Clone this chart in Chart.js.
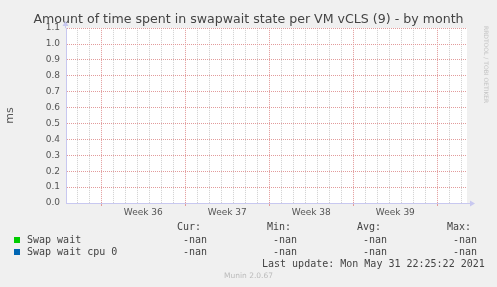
<!DOCTYPE html>
<html>
<head>
<meta charset="utf-8">
<script src="https://cdn.jsdelivr.net/npm/chart.js@4"></script>
<style>
  html, body { margin: 0; padding: 0; background: #f0f0f0; }
  #wrap { position: relative; width: 497px; height: 287px; overflow: hidden; }
  #chart { position: absolute; left: 0; top: 0; }
  .t { position: absolute; white-space: pre; font-family: "DejaVu Sans Mono", monospace; font-size: 10px; line-height: 12px; color: #444; }
  .sq { position: absolute; width: 6px; height: 6px; }
  #munin { position: absolute; left: 0; width: 497px; top: 271px; text-align: center; font-family: "DejaVu Sans", sans-serif; font-size: 7.5px; color: #bbb; }
  #rrd { position: absolute; left: 483px; top: 26px; writing-mode: vertical-rl; font-family: "DejaVu Sans", sans-serif; font-size: 6px; color: #c4c4c4; }
</style>
</head>
<body>
<div id="wrap">
  <canvas id="chart" width="497" height="287"></canvas>
  <div id="legend"></div>
  <div id="munin">Munin 2.0.67</div>
  <div id="rrd">RRDTOOL / TOBI OETIKER</div>
</div>
<script>
// days relative to the start of week 36
const days = [0, 7, 14, 21, 28];
const swapWait = [null, null, null, null, null];
const swapWaitCpu0 = [null, null, null, null, null];
const weekLabels = ["Week 36", "Week 37", "Week 38", "Week 39"];
const weekCenters = [3.5, 10.5, 17.5, 24.5];
const yTicks = [0, 0.1, 0.2, 0.3, 0.4, 0.5, 0.6, 0.7, 0.8, 0.9, 1.0, 1.1];
const seriesNames = ["Swap wait", "Swap wait cpu 0"];
const seriesColors = ["#00cc00", "#0066b3"];
const curValues = ["-nan", "-nan"];
const minValues = ["-nan", "-nan"];
const avgValues = ["-nan", "-nan"];
const maxValues = ["-nan", "-nan"];
const lastUpdate = "Last update: Mon May 31 22:25:22 2021";

const X_MIN = -2.94, X_MAX = 30.47;
const majorGrid = "rgb(226, 155, 155)";
const minorGrid = "rgb(208, 208, 208)";
const axisColor = "#c8c8f0";

const isMajor = (c) => c.tick && Math.round(c.tick.value) % 7 === 0;

const plotBg = {
  id: "plotBg",
  beforeDraw(chart) {
    const { ctx, chartArea: a } = chart;
    ctx.save();
    ctx.fillStyle = "#ffffff";
    ctx.fillRect(a.left, a.top, a.right - a.left, a.bottom - a.top);
    ctx.restore();
  },
  afterDraw(chart) {
    // axis arrows, munin style
    const { ctx, chartArea: a } = chart;
    ctx.save();
    ctx.fillStyle = axisColor;
    ctx.strokeStyle = axisColor;
    ctx.lineWidth = 1;
    ctx.beginPath();
    ctx.moveTo(a.right, a.bottom + 0.5);
    ctx.lineTo(a.right + 4, a.bottom + 0.5);
    ctx.stroke();
    ctx.beginPath();
    ctx.moveTo(a.right + 8, a.bottom + 0.5);
    ctx.lineTo(a.right + 3, a.bottom - 2.5);
    ctx.lineTo(a.right + 3, a.bottom + 3.5);
    ctx.closePath();
    ctx.fill();
    ctx.beginPath();
    ctx.moveTo(a.left - 0.5, a.top);
    ctx.lineTo(a.left - 0.5, a.top - 3);
    ctx.stroke();
    ctx.beginPath();
    ctx.moveTo(a.left - 0.5, a.top - 7);
    ctx.lineTo(a.left - 3.5, a.top - 2);
    ctx.lineTo(a.left + 2.5, a.top - 2);
    ctx.closePath();
    ctx.fill();
    ctx.restore();
  }
};

const ctx = document.getElementById("chart");
new Chart(ctx, {
  type: "line",
  data: {
    datasets: [
      { label: seriesNames[0], data: days.map((d, i) => ({ x: d, y: swapWait[i] })), borderColor: seriesColors[0], pointRadius: 0, borderWidth: 1 },
      { label: seriesNames[1], data: days.map((d, i) => ({ x: d, y: swapWaitCpu0[i] })), borderColor: seriesColors[1], pointRadius: 0, borderWidth: 1 }
    ]
  },
  options: {
    responsive: false,
    animation: false,
    layout: { padding: 0 },
    plugins: {
      legend: { display: false },
      tooltip: { enabled: false },
      title: {
        display: true,
        text: "Amount of time spent in swapwait state per VM vCLS (9) - by month",
        color: "#444",
        font: { family: "DejaVu Sans", size: 12.6, weight: "normal" },
        padding: { top: 12, bottom: 1 }
      }
    },
    scales: {
      x: {
        type: "linear",
        min: X_MIN,
        max: X_MAX,
        afterBuildTicks: (s) => {
          const t = [];
          for (let d = -2; d <= 30; d++) t.push({ value: d });
          s.ticks = t;
        },
        afterFit: (s) => { s.height = 0; },
        ticks: { display: false },
        grid: {
          drawTicks: true,
          tickLength: 3,
          tickColor: (c) => (isMajor(c) ? majorGrid : "rgba(0,0,0,0)"),
          color: (c) => (isMajor(c) ? majorGrid : minorGrid),
          lineWidth: 1
        },
        border: { display: true, color: axisColor, dash: [1, 1] }
      },
      xl: {
        type: "linear",
        position: "bottom",
        min: X_MIN,
        max: X_MAX,
        afterBuildTicks: (s) => { s.ticks = weekCenters.map((v) => ({ value: v })); },
        afterFit: (s) => { s.height = 84; },
        grid: { display: false, drawTicks: false },
        border: { display: false },
        ticks: {
          autoSkip: false,
          maxRotation: 0,
          padding: 4,
          color: "#555",
          font: { family: "DejaVu Sans", size: 9 },
          callback: (v) => weekLabels[weekCenters.indexOf(v)] || ""
        }
      },
      y: {
        type: "linear",
        min: 0,
        max: 1.1,
        afterBuildTicks: (s) => { s.ticks = yTicks.map((v) => ({ value: v })); },
        afterFit: (s) => { s.width = 66; },
        ticks: {
          padding: 6,
          color: "#555",
          font: { family: "DejaVu Sans", size: 9 },
          callback: (v) => Number(v).toFixed(1)
        },
        grid: { drawTicks: false, color: majorGrid, lineWidth: 1 },
        border: { display: true, color: axisColor, dash: [1, 1] },
        title: {
          display: true,
          text: "ms",
          color: "#555",
          font: { family: "DejaVu Sans", size: 11 },
          padding: { top: 4, bottom: 0 }
        }
      },
      yr: {
        type: "linear",
        position: "right",
        min: 0,
        max: 1.1,
        afterFit: (s) => { s.width = 30; },
        ticks: { display: false },
        grid: { display: false, drawTicks: false },
        border: { display: false }
      }
    }
  },
  plugins: [plotBg]
});

// munin legend table
const legend = document.getElementById("legend");
function put(text, left, top) {
  const el = document.createElement("div");
  el.className = "t";
  el.textContent = text;
  el.style.left = left + "px";
  el.style.top = top + "px";
  legend.appendChild(el);
}
const rowTop = [221, 234, 246, 258];
put("Cur:", 177, rowTop[0]);
put("Min:", 267, rowTop[0]);
put("Avg:", 357, rowTop[0]);
put("Max:", 447, rowTop[0]);
seriesNames.forEach((name, i) => {
  const top = rowTop[i + 1];
  const sq = document.createElement("div");
  sq.className = "sq";
  sq.style.left = "14px";
  sq.style.top = (top + 3) + "px";
  sq.style.background = seriesColors[i];
  legend.appendChild(sq);
  put(name, 27, top);
  put(curValues[i], 183, top);
  put(minValues[i], 273, top);
  put(avgValues[i], 363, top);
  put(maxValues[i], 453, top);
});
put(lastUpdate, 262, rowTop[3]);
</script>
</body>
</html>
